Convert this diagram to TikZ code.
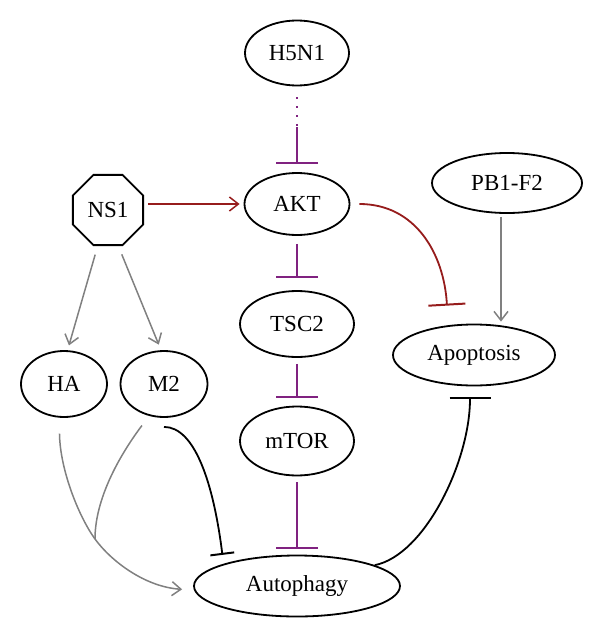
\documentclass[tikz,border=0pt]{standalone}
\usepackage{fontspec}
\setmainfont{Liberation Serif}
\usetikzlibrary{arrows.meta,shapes.geometric}

\definecolor{inhpurple}{RGB}{128,34,128}
\definecolor{actred}{RGB}{150,28,28}
\definecolor{actgray}{RGB}{128,128,128}

\begin{document}
\begin{tikzpicture}[x=1pt,y=-1pt,
    inh/.style={-{Bar[width=#1,line width=2pt]},line width=1.8pt},
    inh/.default=42pt,
    act/.style={-{Straight Barb[length=9pt,width=14pt]},line width=1.5pt}]
	\useasboundingbox (0,0) rectangle (600,637);
	\begin{scope}[every node/.style={ellipse,draw,line width=1.8pt,inner sep=0pt,
                  font=\fontsize{23}{27}\selectfont}]
    	\node[minimum width=104pt,minimum height=65pt] (H5N1) at (297,53) {H5N1};
    	\node[minimum width=105pt,minimum height=62pt] (AKT) at (297,204) {AKT};
    	\node[minimum width=114pt,minimum height=66pt] (TSC2) at (297,324) {TSC2};
    	\node[minimum width=114pt,minimum height=69pt] (mTOR) at (297,441) {mTOR};
    	\node[minimum width=206pt,minimum height=61pt] (Autophagy) at (297,586) {Autophagy};
    	\node[regular polygon,regular polygon sides=8,minimum size=76pt] (NS1) at (108,210) {NS1};
    	\node[minimum width=86pt,minimum height=66pt] (HA) at (64,384) {HA};
    	\node[minimum width=87pt,minimum height=66pt] (M2) at (164,384) {M2};
    	\node[minimum width=150pt,minimum height=60pt] (PBF2) at (507,183) {PB1-F2};
    	\node[minimum width=162pt,minimum height=61pt] (Apoptosis) at (474,355) {Apoptosis};
	\end{scope}
	% AKT / mTOR axis
	\coordinate (dotend) at (297,127);
	\draw[inhpurple,line width=1.8pt,dash pattern=on 1.8pt off 7pt,shorten <=11pt] (H5N1) -- (dotend);
	\draw[inhpurple,inh,shorten >=8pt] (dotend) -- (AKT);
	\draw[inhpurple,inh,shorten <=8pt,shorten >=12pt] (AKT) -- (TSC2);
	\draw[inhpurple,inh,shorten <=6pt,shorten >=8pt] (TSC2) -- (mTOR);
	\draw[inhpurple,inh,shorten <=6pt,shorten >=6pt] (mTOR) -- (Autophagy);
	% NS1 and AKT
	\draw[actred,act,shorten <=4pt,shorten >=4pt] (NS1.east |- AKT) -- (AKT);
	\draw[actred,inh=37pt,shorten <=9pt,shorten >=18pt] (AKT.east) .. controls +(65,0) and +(-4,-70) .. ([xshift=-26pt]Apoptosis.north);
	\draw[actgray,act,shorten <=3pt,shorten >=2pt] ([xshift=-6pt]PBF2.south) -- ([xshift=-6pt]PBF2.south |- Apoptosis.north);
	\draw[actgray,act,shorten <=9pt,shorten >=5pt] (NS1.-106) -- (HA.84);
	\draw[actgray,act,shorten <=9pt,shorten >=6pt] (NS1.-74) -- (M2.95);
	% into autophagy
	\coordinate (merge) at (95,539);
	\draw[actgray,act,shorten <=16pt,shorten >=11pt] (HA.-98) .. controls (60,470) and (79,517) .. (merge)
	    .. controls (111,561) and (145,587) .. ([yshift=-4pt]Autophagy.west);
	\draw[actgray,line width=1.5pt,shorten <=12pt] (M2.-115) .. controls +(-30,40) and +(0,-40) .. (merge);
	\draw[black,inh=24pt,shorten >=9pt] ([yshift=-9pt]M2.south) .. controls +(31,0) and +(-10,-80) .. (Autophagy.north west);
	\draw[black,inh=41pt,shorten >=11pt] (Autophagy.15) .. controls +(50,-10) and +(0,75) .. ([xshift=-4pt]Apoptosis.south);
\end{tikzpicture}
\end{document}
